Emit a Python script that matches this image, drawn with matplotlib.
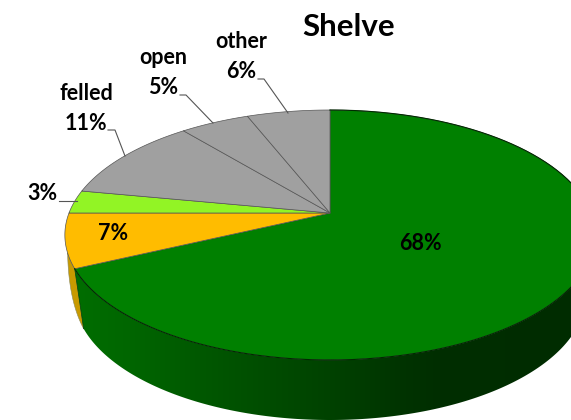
import numpy as np
import matplotlib
matplotlib.use("Agg")
import matplotlib.pyplot as plt
from matplotlib.patches import Polygon

labels = ["", "", "", "felled", "open", "other"]
values = [68, 7, 3, 11, 5, 6]
colors = ["#008000", "#FFBC00", "#92F425", "#A0A0A0", "#A0A0A0", "#A0A0A0"]
title = "Shelve"

W, H = 571, 420
APEX = (330.0, 213.0)
C, A, K = -0.176, 83.64, 261.0
DEPTH_Y, DEPTH_X = 60.0, 0.965


def top(theta):
    """theta = clockwise angle from 12 o'clock (radians), perspective disk."""
    s, t = np.sin(theta), -np.cos(theta)
    d = 1 + C * t
    return APEX[0] + K * s / d, (A * t + APEX[1]) / d


def bottom(theta):
    x, y = top(theta)
    return APEX[0] + (x - APEX[0]) * DEPTH_X, y + DEPTH_Y


def side_color(x):
    f = np.interp(x, [70, 130, 200, 270, 330, 400, 440, 571],
                  [110, 102, 88, 76, 66, 52, 46, 44])
    return (0, f / 255, 0)


fig = plt.figure(figsize=(W / 100, H / 100), dpi=100)
ax = fig.add_axes([0, 0, 1, 1])
ax.axis("off")

bounds = 2 * np.pi * np.cumsum([0] + values) / sum(values)

# orange rim sliver: rim part of the orange slice, then silhouette down to the base
x_r, y_r = top(np.linspace(bounds[1], bounds[1] + 0.28 * (bounds[2] - bounds[1]), 30))
xb, yb = bottom(bounds[1])
u = np.linspace(0, 1, 30)
ctrl = (x_r[-1] + 1, y_r[-1] + 48)
x_s = (1 - u) ** 2 * x_r[-1] + 2 * u * (1 - u) * ctrl[0] + u ** 2 * xb
y_s = (1 - u) ** 2 * y_r[-1] + 2 * u * (1 - u) * ctrl[1] + u ** 2 * yb
ax.add_patch(Polygon(np.column_stack([np.r_[x_r, x_s], np.r_[y_r, y_s]]), closed=True,
                     fc="#C89A00", ec="#8a8a60", lw=0.4, zorder=2))

# green front wall with horizontal shading
th = np.linspace(np.pi / 2 - 0.5, bounds[1], 300)
x_t, y_t = top(th)
x_b, y_b = bottom(th)
poly = Polygon(np.column_stack([np.r_[x_t, x_b[::-1]], np.r_[y_t, y_b[::-1]]]),
               closed=True, fc="none", ec="none", zorder=2)
ax.add_patch(poly)
grad = np.array([[side_color(v) for v in np.arange(0, W + 1)]])
im = ax.imshow(grad, extent=(0, W, H, 0), aspect="auto", zorder=2,
               interpolation="bilinear")
im.set_clip_path(poly)
ax.set_xlim(0, W)
ax.set_ylim(H, 0)

# top face
for i in range(len(values)):
    th = np.linspace(bounds[i], bounds[i + 1], 200)
    x, y = top(th)
    pts = np.column_stack([np.r_[APEX[0], x], np.r_[APEX[1], y]])
    ax.add_patch(Polygon(pts, closed=True, fc=colors[i], ec="#555555", lw=0.5,
                         zorder=3, joinstyle="round"))

# seam between top face and green side
th = np.linspace(bounds[0], bounds[1], 300)
x, y = top(th)
ax.plot(x, y, color="#002a00", lw=0.8, zorder=4)
xa, ya = top(bounds[1])
ax.plot([xa, xb], [ya, yb], color="#004000", lw=0.5, zorder=4)

FS = 15.5
txt = dict(family="Lato", fontweight="bold", fontsize=FS, color="black",
           ha="center", va="center", zorder=6)
ax.text(349, 27, title, family="Lato", fontweight="bold", fontsize=22.5,
        ha="center", va="center", color="black")
ax.text(241, 42, labels[5], **txt)
ax.text(241, 71, f"{values[5]}%", **txt)
ax.text(163, 58, labels[4], **txt)
ax.text(163, 88, f"{values[4]}%", **txt)
ax.text(86, 93, labels[3], **txt)
ax.text(86, 123, f"{values[3]}%", **txt)
ax.text(42, 193, f"{values[2]}%", **txt)
ax.text(113, 233, f"{values[1]}%", **txt)
ax.text(420, 244, f"{values[0]}%", **txt)

# leader lines
for xs, ys in [([258, 264, 288], [79, 79, 113]),
               ([180, 186, 213], [95, 95, 123]),
               ([108, 115, 125], [130, 130, 156]),
               ([59, 77], [201, 201])]:
    ax.plot(xs, ys, color="#555555", lw=0.8, zorder=5)

fig.savefig("out.png", dpi=100, facecolor="white")
